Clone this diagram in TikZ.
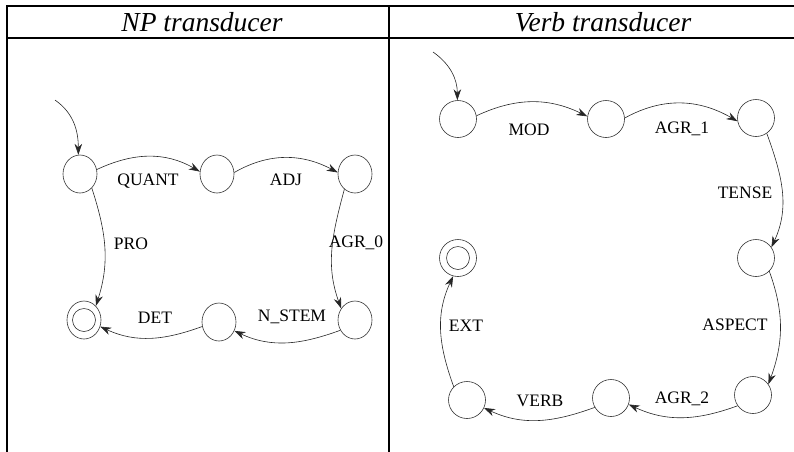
\documentclass[tikz,border=0pt]{standalone}
\usepackage{fontspec}
\setmainfont{Liberation Serif}
\usetikzlibrary{arrows.meta,shapes.geometric}

\begin{document}
\begin{tikzpicture}[x=1pt,y=1pt,
	npstate/.style={draw=black!80,line width=0.6pt,ellipse,minimum width=34pt,minimum height=38pt,inner sep=0pt},
	vstate/.style={draw=black!80,line width=0.6pt,circle,minimum size=37pt,inner sep=0pt},
	accept/.style={path picture={\draw[black!80,line width=0.6pt] (path picture bounding box.center) circle (11.5pt);}},
	trans/.style={draw=black!85,line width=0.6pt,-{Stealth[length=11pt,width=7.5pt]}},
	lbl/.style={font=\fontsize{17.5}{20}\selectfont,inner sep=0pt},
	head/.style={font=\fontsize{27.5}{30}\selectfont\itshape,anchor=base,inner sep=0pt},
	rule/.style={line width=1.6pt,line cap=rect}]
		\useasboundingbox (0,0) rectangle (794,-451);
		
		% table
		\draw[rule] (7,-6) -- (794,-6);
		\draw[rule] (7,-38) -- (794,-38);
		\draw[rule] (7,-6) -- (7,-451);
		\draw[rule] (389,-6) -- (389,-451);
		
		\node[head] (nphead) at (202,-31) {NP transducer};
		\node[head] (vhead) at (603,-31) {Verb transducer};
		
		% NP transducer
		\node[npstate] (q0) at (80,-174) {};
		\node[npstate] (q1) at (217,-174) {};
		\node[npstate] (q2) at (355,-174) {};
		\node[npstate] (q3) at (355,-320) {};
		\node[npstate] (q4) at (219,-322) {};
		\node[npstate,accept] (qf) at (84,-320) {};
		\coordinate (s0) at (55,-100);
		
		\draw[trans] (s0) to[out=-35,in=90] (q0.95);
		\draw[trans] (q0.15) to[out=25,in=150] (q1.172);
		\draw[trans] (q1.5) to[out=30,in=152] (q2.175);
		\draw[trans] (q0.-50) to[out=-72,in=72] (qf.50);
		\draw[trans] (q2.-125) to[out=-105,in=110] (q3.140);
		\draw[trans] (q3.-145) to[out=-160,in=-25] (q4.-30);
		\draw[trans] (q4.-165) to[out=-160,in=-25] (qf.-22);
		
		\node[lbl] (quant) at (148,-181) {QUANT};
		\node[lbl] (adj) at (286,-180) {ADJ};
		\node[lbl] (pro) at (131,-244) {PRO};
		\node[lbl] (agr0) at (356,-243) {AGR\_0};
		\node[lbl] (det) at (155,-318) {DET};
		\node[lbl] (nstem) at (292,-317) {N\_STEM};
		
		% Verb transducer
		\node[vstate] (v0) at (458,-119) {};
		\node[vstate] (v1) at (606,-119) {};
		\node[vstate] (v2) at (756,-118) {};
		\node[vstate] (v3) at (756,-258) {};
		\node[vstate] (v4) at (753,-395) {};
		\node[vstate] (v5) at (611,-398) {};
		\node[vstate] (v6) at (467,-400) {};
		\node[vstate,accept] (vf) at (458,-258) {};
		\coordinate (s1) at (433,-52);
		
		\draw[trans] (s1) to[out=-35,in=90] (v0.92);
		\draw[trans] (v0.10) to[out=25,in=154] (v1.172);
		\draw[trans] (v1.3) to[out=29,in=150] (v2.190);
		\draw[trans] (v2.-55) to[out=-70,in=65] (v3.35);
		\draw[trans] (v3.-45) to[out=-70,in=70] (v4.35);
		\draw[trans] (v4.-145) to[out=-160,in=-25] (v5.-20);
		\draw[trans] (v5.-150) to[out=-160,in=-25] (v6.-25);
		\draw[trans] (v6.135) to[out=110,in=-115] (vf.-105);
		
		\node[lbl] (mod) at (529,-130) {MOD};
		\node[lbl] (agr1) at (682,-129) {AGR\_1};
		\node[lbl] (tense) at (745,-193) {TENSE};
		\node[lbl] (aspect) at (735,-325) {ASPECT};
		\node[lbl] (agr2) at (682,-399) {AGR\_2};
		\node[lbl] (verb) at (540,-401) {VERB};
		\node[lbl] (ext) at (466,-326) {EXT};
\end{tikzpicture}
\end{document}
